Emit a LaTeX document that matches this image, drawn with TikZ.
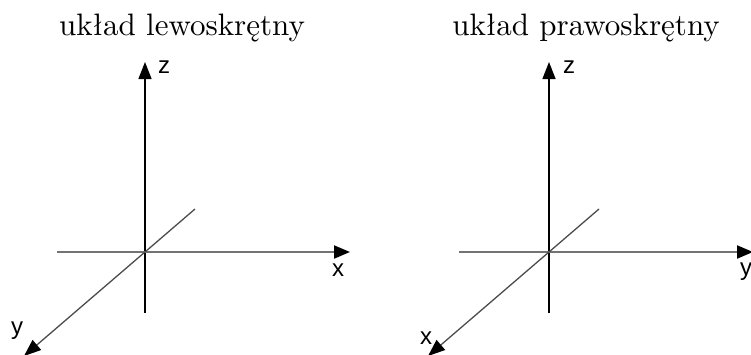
\documentclass[tikz,border=0pt]{standalone}
\usepackage{fontspec}
\newfontfamily\axisfont{Liberation Sans}
\newfontfamily\titlefont{lmroman10-regular.otf}
\usetikzlibrary{arrows.meta}

\begin{document}
\begin{tikzpicture}[
    x=1pt, y=-1pt,
    title/.style={anchor=base, inner sep=0pt, font=\titlefont\fontsize{31}{37}\selectfont},
    lbl/.style={inner sep=0pt, font=\axisfont\fontsize{24}{28}\selectfont},
    zaxis/.style={draw=black, line width=1.4pt, -{Triangle[length=17pt, width=13pt]}},
    haxis/.style={draw=black!55, line width=2pt, -{Triangle[length=16pt, width=13pt, color=black]}},
    daxis/.style={draw=black!70, line width=1.3pt, -{Triangle[length=17pt, width=13pt, color=black]}}
]
    \useasboundingbox (0,0) rectangle (751,354);

    % Titles
    \node[title] (tL) at (182,35) {układ lewoskrętny};
    \node[title] (tR) at (586,35) {układ prawoskrętny};

    % Left system
    \coordinate (oL) at (145,252);
    \coordinate (zbL) at (145,313);
    \coordinate (ztL) at (145,62);
    \coordinate (hbL) at (57,252);
    \coordinate (htL) at (350,252);
    \coordinate (dbL) at (195,209);
    \coordinate (dtL) at (24,356);
    \draw[zaxis] (zbL) -- (ztL);
    \draw[haxis] (hbL) -- (htL);
    \draw[daxis] (dbL) -- (dtL);
    \node[lbl] (zL) at (164,67) {z};
    \node[lbl] (xL) at (338,270) {x};
    \node[lbl] (yL) at (17,331) {y};

    % Right system
    \coordinate (oR) at (549,252);
    \coordinate (zbR) at (549,313);
    \coordinate (ztR) at (549,62);
    \coordinate (hbR) at (459,252);
    \coordinate (htR) at (753,252);
    \coordinate (dbR) at (599,209);
    \coordinate (dtR) at (428,356);
    \draw[zaxis] (zbR) -- (ztR);
    \draw[haxis] (hbR) -- (htR);
    \draw[daxis] (dbR) -- (dtR);
    \node[lbl] (zR) at (569,67) {z};
    \node[lbl] (yR) at (746,272) {y};
    \node[lbl] (xR) at (426,338) {x};

\end{tikzpicture}
\end{document}
